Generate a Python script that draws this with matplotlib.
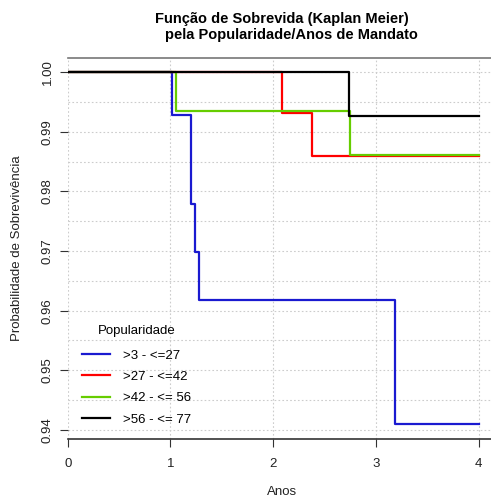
import matplotlib
matplotlib.use("Agg")
import matplotlib.pyplot as plt
from matplotlib.lines import Line2D

plt.rcParams['font.family'] = ['Liberation Sans', 'DejaVu Sans']

# Data: Kaplan-Meier step curves (time, survival)
groups = [">3 - <=27", ">27 - <=42", ">42 - <= 56", ">56 - <= 77"]
colors = ["#1a1ad0", "#ff0000", "#66cd00", "#000000"]

t_g1 = [0, 1.018, 1.203, 1.241, 1.280, 3.184, 4.0]
s_g1 = [1.0, 0.9928, 0.9779, 0.9699, 0.9618, 0.9410, 0.9410]
t_g2 = [0, 2.08, 2.38, 4.0]
s_g2 = [1.0, 0.9932, 0.9859, 0.9859]
t_g3 = [0, 1.057, 2.75, 4.0]
s_g3 = [1.0, 0.9935, 0.9861, 0.9861]
t_g4 = [0, 2.74, 4.0]
s_g4 = [1.0, 0.9926, 0.9926]

times = [t_g1, t_g2, t_g3, t_g4]
survs = [s_g1, s_g2, s_g3, s_g4]

xticks = [0, 1, 2, 3, 4]
yticks = [0.94, 0.95, 0.96, 0.97, 0.98, 0.99, 1.00]
ytick_labels = ["0.94", "0.95", "0.96", "0.97", "0.98", "0.99", "1.00"]
ygrid = [0.94, 0.945, 0.95, 0.955, 0.96, 0.965, 0.97, 0.975, 0.98, 0.985, 0.99, 0.995, 1.0]

W, H = 491, 500
fig = plt.figure(figsize=(W / 100, H / 100), dpi=100)
x0, x1 = 67.7, 491.5
y_top, y_bot = 58, 439
ax = fig.add_axes([x0 / W, (H - y_bot) / H, (x1 - x0) / W, (y_bot - y_top) / H])
ax.set_xlim(0, 4.123)
ax.set_ylim(0.93849, 1.00235)

# grid
for g in xticks:
    ax.axvline(g, color="#cccccc", lw=0.8, ls=(0, (1.5, 2)), zorder=0)
for g in ygrid:
    ax.axhline(g, color="#cccccc", lw=0.8, ls=(0, (1.5, 2)), zorder=0)

for t, s, c in zip(times, survs, colors):
    ax.step(t, s, where="post", color=c, lw=1.6, zorder=3)

ax.set_xticks(xticks)
ax.set_xticklabels([str(v) for v in xticks])
ax.set_yticks(yticks)
ax.set_yticklabels(ytick_labels, rotation=90, va="center")
ax.tick_params(axis="both", direction="out", length=6, width=0.8, colors="#333333", labelcolor="#222222", labelsize=9.5)
ax.tick_params(axis="x", pad=8)
ax.tick_params(axis="y", pad=4)

for side in ["left", "right"]:
    ax.spines[side].set_visible(False)
ax.spines["top"].set_color("#777777")
ax.spines["top"].set_linewidth(1.2)
ax.spines["bottom"].set_color("#333333")
ax.spines["bottom"].set_linewidth(1.2)

fig.text(282 / W, 1 - 492 / H, "Anos", ha="center", va="center", fontsize=9.5, color="#222222")
fig.text(17 / W, 1 - 248 / H, "Probabilidade de Sobrevivência", ha="center", va="center",
         rotation=90, fontsize=9.5, color="#222222")

handles = [Line2D([0], [0], color=c, lw=1.6) for c in colors]
leg = ax.legend(handles, groups, title="Popularidade", loc="upper left",
                bbox_to_anchor=(0.006, 0.33), frameon=False, fontsize=9.5,
                title_fontsize=9.5, handlelength=2.1, handletextpad=1.0,
                labelspacing=0.68, borderaxespad=0.5)
leg._legend_box.sep = 9

fig.text(281.5 / W, 1 - 19 / H, "Função de Sobrevida (Kaplan Meier)", ha="center", va="center",
         fontsize=10.5, fontweight="bold")
fig.text(291 / W, 1 - 35 / H, "pela Popularidade/Anos de Mandato", ha="center", va="center",
         fontsize=10.5, fontweight="bold")

fig.savefig("out.png", dpi=100)
